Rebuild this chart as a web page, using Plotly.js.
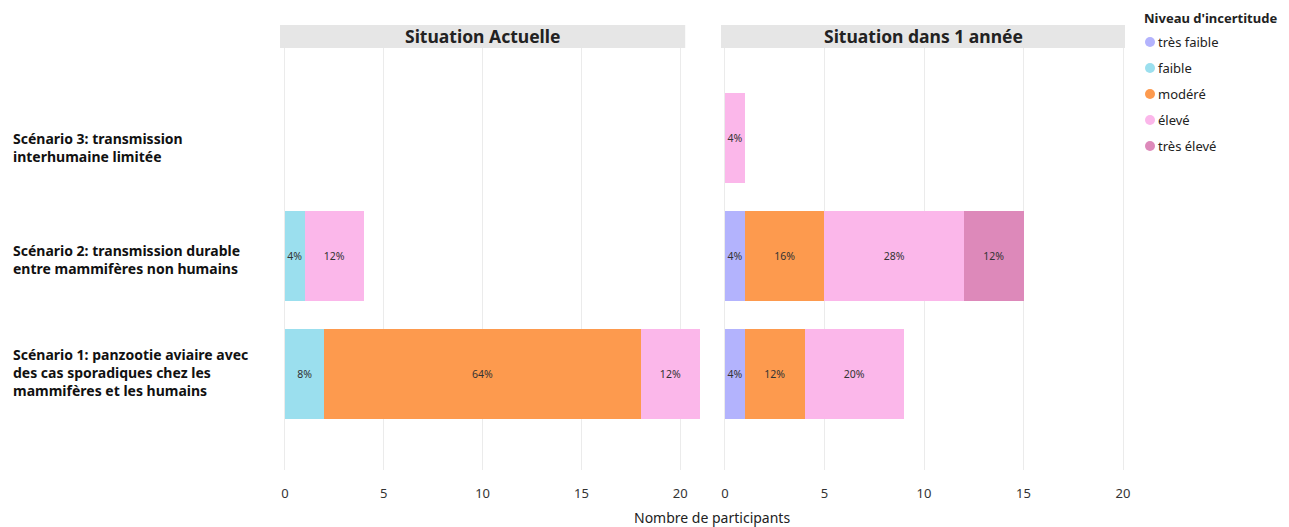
<!DOCTYPE html>
<html><head><meta charset="utf-8">
<script src="https://cdn.plot.ly/plotly-3.0.1.min.js"></script>
<style>html,body{margin:0;padding:0;background:#fff}</style>
</head><body><div id="chart" style="width:1289px;height:527px"></div>
<script>
const scenarios = [
  "Scénario 1: panzootie aviaire avec<br>des cas sporadiques chez les<br>mammifères et les humains",
  "Scénario 2: transmission durable<br>entre mammifères non humains",
  "Scénario 3: transmission<br>interhumaine limitée"
];
const panels = ["Situation Actuelle", "Situation dans 1 année"];
const levels = ["très faible", "faible", "modéré", "élevé", "très élevé"];
const colors = ["#b3b3fd", "#9bdfee", "#fd9a4e", "#fbb7ea", "#dd89ba"];
const totalParticipants = 25;
// counts per level, per scenario (Scénario 1, 2, 3)
const actuelle = {
  "très faible": [0, 0, 0],
  "faible":      [2, 1, 0],
  "modéré":      [16, 0, 0],
  "élevé":       [3, 3, 0],
  "très élevé":  [0, 0, 0]
};
const dansUnAn = {
  "très faible": [1, 1, 0],
  "faible":      [0, 0, 0],
  "modéré":      [3, 4, 0],
  "élevé":       [5, 7, 1],
  "très élevé":  [0, 3, 0]
};
const xTicks = [0, 5, 10, 15, 20];
const axisTitle = "Nombre de participants";
const legendTitle = "Niveau d'incertitude";

const ML = 280, MT = 25, W = 845, H = 445;
const px = v => (v - ML) / W;          // page x -> paper
const py = v => (MT + H - v) / H;      // page y -> paper

const traces = [];
[actuelle, dansUnAn].forEach((data, p) => {
  levels.forEach((lv, i) => {
    const vals = data[lv];
    traces.push({
      type: "bar", orientation: "h",
      x: vals, y: scenarios,
      xaxis: p === 0 ? "x" : "x2", yaxis: p === 0 ? "y" : "y2",
      marker: {color: colors[i], line: {width: 0}},
      width: 0.76,
      text: vals.map(v => v > 0 ? Math.round(v / totalParticipants * 100) + "%" : ""),
      textposition: "inside", insidetextanchor: "middle", textangle: 0, constraintext: "none",
      textfont: {size: 10.5, color: "#333", family: "Noto Sans"},
      showlegend: false, hoverinfo: "skip"
    });
  });
});

const yDomTop = py(48);
const xAxisBase = {
  tickvals: xTicks, showgrid: true, gridcolor: "#ebebeb", gridwidth: 1,
  zeroline: false, showline: false, ticks: "", fixedrange: true, ticklabelstandoff: 14,
  tickfont: {size: 13, color: "#333", family: "Noto Sans"}
};
const yAxisBase = {
  type: "category", categoryorder: "array", categoryarray: scenarios,
  range: [-0.81, 2.76], showticklabels: false, showgrid: false, zeroline: false,
  domain: [0, yDomTop], fixedrange: true
};

const shapes = [], annotations = [];
// header strips (in data coords of each panel)
const hdr = [["x", -0.25, 20.25], ["x2", -0.2, 20.1]];
hdr.forEach((h, p) => {
  shapes.push({type: "rect", xref: h[0], yref: "paper", x0: h[1], x1: h[2], y0: yDomTop, y1: 1,
    fillcolor: "#e6e6e6", line: {width: 0}, layer: "below"});
  annotations.push({xref: h[0], yref: "paper", x: (h[1] + h[2]) / 2, y: (yDomTop + 1) / 2,
    text: "<b>" + panels[p] + "</b>", showarrow: false, xanchor: "center", yanchor: "middle",
    font: {size: 17.5, color: "#222", family: "Noto Sans"}});
});
const labelShift = [2, -3, -10];
scenarios.forEach((s, i) => {
  annotations.push({xref: "paper", yref: "y", x: px(11), y: s, text: "<b>" + s + "</b>",
    showarrow: false, xanchor: "left", yanchor: "middle", align: "left", yshift: labelShift[i],
    font: {size: 14, color: "#111", family: "Noto Sans"}});
});
annotations.push({xref: "paper", yref: "paper", x: px(712), y: py(517),
  text: axisTitle, showarrow: false, xanchor: "center", yanchor: "middle",
  font: {size: 14, color: "#222", family: "Noto Sans"}});
// legend drawn manually
annotations.push({xref: "paper", yref: "paper", x: px(1142), y: py(18), text: "<b>" + legendTitle + "</b>",
  showarrow: false, xanchor: "left", yanchor: "middle", font: {size: 13, color: "#222", family: "Noto Sans"}});
levels.forEach((lv, i) => {
  const yy = py(42 + 26 * i);
  shapes.push({type: "circle", xref: "paper", yref: "paper", xsizemode: "pixel", ysizemode: "pixel",
    xanchor: px(1150), yanchor: yy, x0: -5, x1: 5, y0: -5, y1: 5,
    fillcolor: colors[i], line: {width: 0}});
  annotations.push({xref: "paper", yref: "paper", x: px(1156), y: yy, text: lv,
    showarrow: false, xanchor: "left", yanchor: "middle", font: {size: 13, color: "#222", family: "Noto Sans"}});
});

const layout = {
  width: 1289, height: 527,
  margin: {l: ML, r: 1289 - ML - W, t: MT, b: 527 - MT - H},
  paper_bgcolor: "#fff", plot_bgcolor: "#fff",
  barmode: "stack",
  xaxis: Object.assign({}, xAxisBase, {range: [-0.25, 21.1], domain: [0, px(702)], anchor: "y"}),
  xaxis2: Object.assign({}, xAxisBase, {range: [-0.2, 20.1], domain: [px(721), 1], anchor: "y2"}),
  yaxis: Object.assign({}, yAxisBase, {anchor: "x"}),
  yaxis2: Object.assign({}, yAxisBase, {anchor: "x2"}),
  shapes, annotations,
  showlegend: false,
  font: {family: "Noto Sans"}
};
Plotly.newPlot("chart", traces, layout, {displayModeBar: false, staticPlot: true});
</script></body></html>
